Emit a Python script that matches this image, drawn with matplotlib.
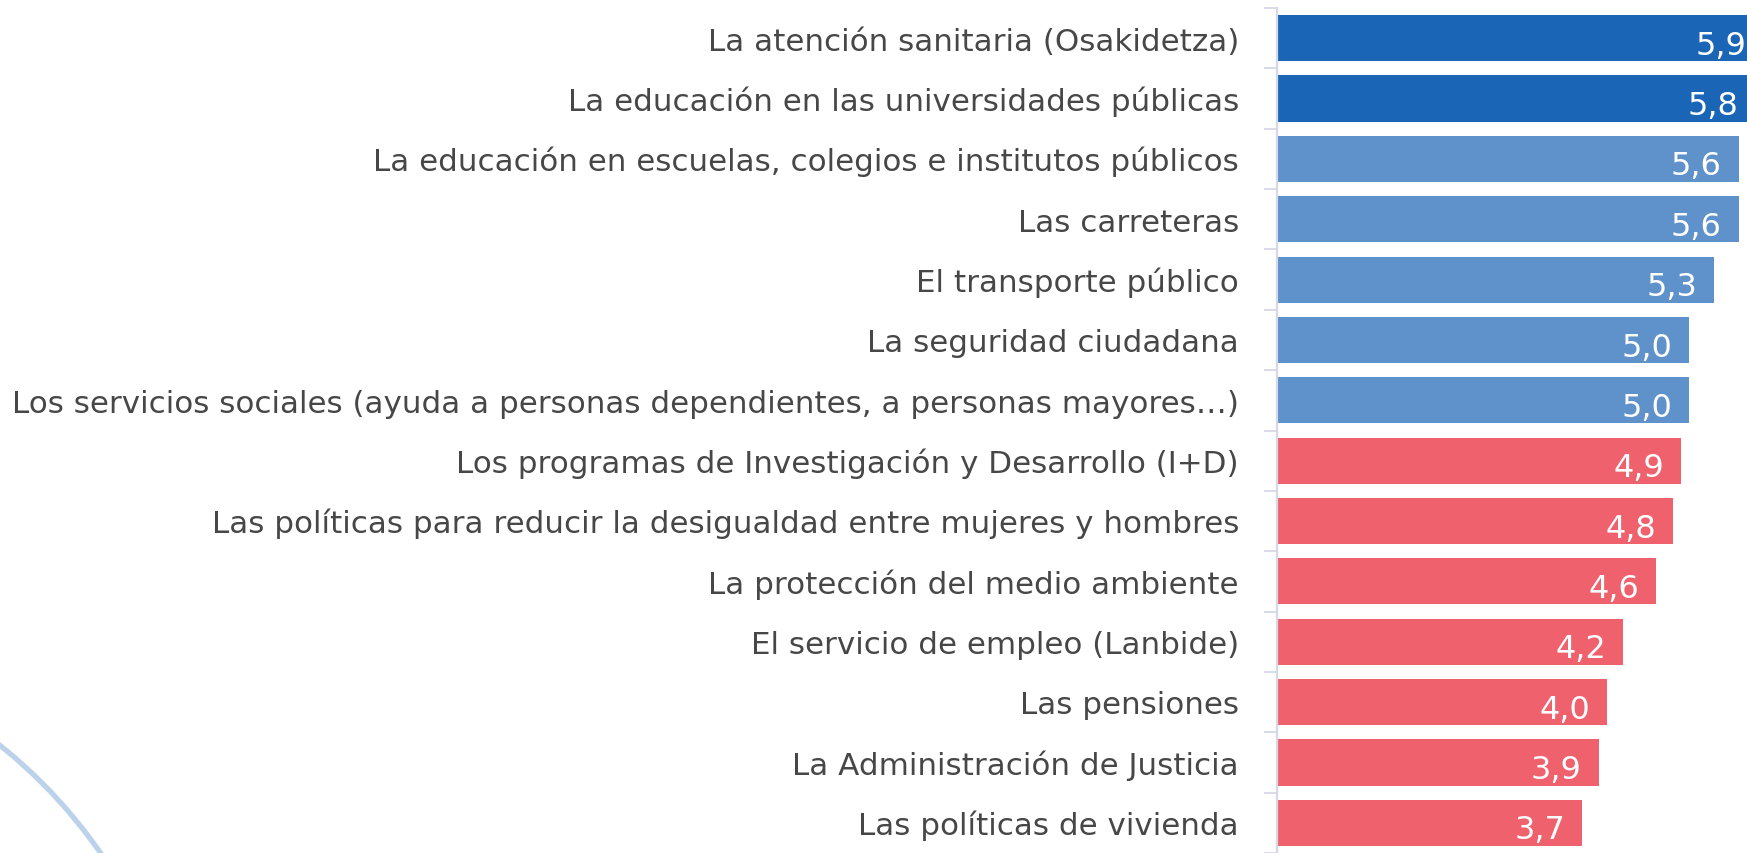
import matplotlib
matplotlib.use("Agg")
import matplotlib.pyplot as plt
from matplotlib.patches import Circle

categories = [
    "La atención sanitaria (Osakidetza)",
    "La educación en las universidades públicas",
    "La educación en escuelas, colegios e institutos públicos",
    "Las carreteras",
    "El transporte público",
    "La seguridad ciudadana",
    "Los servicios sociales (ayuda a personas dependientes, a personas mayores…)",
    "Los programas de Investigación y Desarrollo (I+D)",
    "Las políticas para reducir la desigualdad entre mujeres y hombres",
    "La protección del medio ambiente",
    "El servicio de empleo (Lanbide)",
    "Las pensiones",
    "La Administración de Justicia",
    "Las políticas de vivienda",
]
values = [5.9, 5.8, 5.6, 5.6, 5.3, 5.0, 5.0, 4.9, 4.8, 4.6, 4.2, 4.0, 3.9, 3.7]
groups = ["alto", "alto", "medio", "medio", "medio", "medio", "medio",
          "bajo", "bajo", "bajo", "bajo", "bajo", "bajo", "bajo"]
group_colors = {"alto": "#1b65b7", "medio": "#5f92cb", "bajo": "#f0616e"}

W, H, DPI = 1747, 854, 100
fig = plt.figure(figsize=(W / DPI, H / DPI), dpi=DPI)
fig.patch.set_facecolor("white")

# decorative arc bottom-left (pixel coords)
circ = Circle((-320, -292), 512, transform=None, fill=False,
              edgecolor="#bcd1ea", linewidth=3.8)
fig.add_artist(circ)

ax_left = 1277 / W
ax_top = (H - 9) / H
ax = fig.add_axes([ax_left, 0.0, 1.0 - ax_left, ax_top])
ax.set_facecolor("none")

n = len(categories)
y = list(range(n))
colors = [group_colors[g] for g in groups]
ax.barh(y, values, height=0.764, color=colors, zorder=2)

ax.set_xlim(0, 5.70)
ax.set_ylim(13.32, -0.5)

for s in ["top", "right", "bottom"]:
    ax.spines[s].set_visible(False)
ax.spines["left"].set_color("#d5d9e6")
ax.spines["left"].set_linewidth(1.6)
ax.spines["left"].set_zorder(3)

ax.set_xticks([])
ax.set_yticks([i - 0.5 for i in range(n + 1)])
ax.set_yticklabels([])
ax.tick_params(axis="y", length=9.4, width=1.3, color="#d5d9e6")

font = "DejaVu Sans"
for i, (cat, v) in enumerate(zip(categories, values)):
    ax.annotate(cat, xy=(0, i), xycoords=("axes fraction", "data"),
                xytext=(-27.4, -8.2), textcoords="offset points",
                ha="right", va="baseline", fontsize=22.3,
                color="#474747", family=font, annotation_clip=False)
    ax.annotate(f"{v:.1f}".replace(".", ","), xy=(v, i), xycoords="data",
                xytext=(-12.2, -11.2), textcoords="offset points",
                ha="right", va="baseline", fontsize=23,
                color="white", family=font, annotation_clip=False, zorder=4)

fig.savefig("out.png", dpi=DPI, facecolor="white")
